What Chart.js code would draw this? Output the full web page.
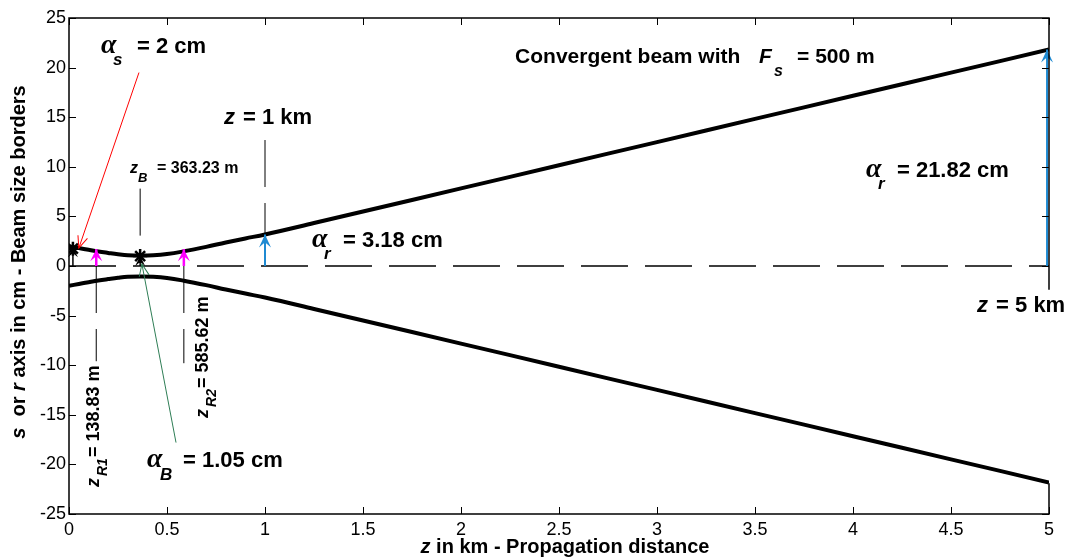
<!DOCTYPE html>
<html>
<head>
<meta charset="utf-8">
<script src="https://cdn.jsdelivr.net/npm/chart.js@4.4.1/dist/chart.umd.min.js"></script>
<style>
  html, body { margin: 0; padding: 0; background: #fff; }
  #beam { display: block; }
</style>
</head>
<body>
<canvas id="beam" width="1076" height="558"></canvas>
<script>
// ビーム境界 (cm) : 上側と下側
const zKm = [0, 0.05, 0.1, 0.15, 0.2, 0.25, 0.3, 0.363, 0.43, 0.5, 0.586, 0.7, 0.8, 0.9, 1.0, 1.25, 1.5, 2, 2.5, 3, 3.5, 4, 4.5, 5];
const upperCm = [2.0, 1.81, 1.63, 1.46, 1.32, 1.19, 1.09, 1.05, 1.08, 1.2, 1.48, 1.93, 2.37, 2.78, 3.18, 4.33, 5.5, 7.82, 10.16, 12.49, 14.83, 17.16, 19.49, 21.82];
const lowerCm = [-2.0, -1.81, -1.63, -1.46, -1.32, -1.19, -1.09, -1.05, -1.08, -1.2, -1.48, -1.93, -2.37, -2.78, -3.18, -4.33, -5.5, -7.82, -10.16, -12.49, -14.83, -17.16, -19.49, -21.82];

// 目盛り
const xTicks = [0, 0.5, 1, 1.5, 2, 2.5, 3, 3.5, 4, 4.5, 5];
const xTickLabels = ["0", "0.5", "1", "1.5", "2", "2.5", "3", "3.5", "4", "4.5", "5"];
const yTicks = [-25, -20, -15, -10, -5, 0, 5, 10, 15, 20, 25];
const yTickLabels = ["-25", "-20", "-15", "-10", "-5", "0", "5", "10", "15", "20", "25"];

// 補助線 (縦の破線, 上から下へ)
const guideZ = [0.139, 0.586, 0.363, 1];
const guideFrom = [0, 0, 7.8, 12.7];
const guideTo = [-9.6, -9.8, 1.05, 3.18];

// 矢印
const blueArrowZ = [1, 4.99];
const blueArrowTop = [3.18, 21.82];
const magentaArrowZ = [0.139, 0.586];
const magentaArrowTop = [1.7, 1.7];
const blackArrowZ = [0.02, 0.363];
const blackArrowTop = [1.9, 1.0];
const starZ = [0.02, 0.363];
const starCm = [1.75, 1.0];
const redArrowZ = [0.357, 0.05];
const redArrowCm = [19.5, 1.8];
const greenArrowZ = [0.546, 0.372];
const greenArrowCm = [-17.8, 0.2];

// 右枠の切れ目 (z = 5 km の文字の部分)
const rightFrameGap = [-2.4, -21.9];

const SANS = '"Liberation Sans", Arial, sans-serif';
const SERIF = '"Liberation Serif", "Times New Roman", serif';

function pts(xs, ys) {
  return xs.map((x, i) => ({ x: x, y: ys[i] }));
}

function segment(x0, y0, x1, y1, color, width, dash, head) {
  return {
    data: [{ x: x0, y: y0 }, { x: x1, y: y1 }],
    showLine: true,
    pointRadius: 0,
    borderColor: color,
    borderWidth: width,
    borderDash: dash || [],
    head: head || null,
    order: 1,
  };
}

const datasets = [];

// ビーム
datasets.push({
  data: pts(zKm, upperCm), showLine: true, pointRadius: 0,
  borderColor: "#000", borderWidth: 4, tension: 0.4, order: 3,
});
datasets.push({
  data: pts(zKm, lowerCm), showLine: true, pointRadius: 0,
  borderColor: "#000", borderWidth: 4, tension: 0.4, order: 3,
});

// 0 の破線
datasets.push(Object.assign(segment(0, 0, 5, 0, "#000", 1.5, [47, 17]), { order: 4 }));

guideZ.forEach((z, i) => {
  datasets.push(Object.assign(segment(z, guideFrom[i], z, guideTo[i], "#000", 1, [47, 16]), { order: 4 }));
});

blueArrowZ.forEach((z, i) => {
  datasets.push(segment(z, 0, z, blueArrowTop[i], "#1f8ad2", 2, null, { len: 13, half: 6, fill: true }));
});
magentaArrowZ.forEach((z, i) => {
  datasets.push(segment(z, 0, z, magentaArrowTop[i], "#ff00ff", 2.5, null, { len: 12, half: 6, fill: true }));
});
blackArrowZ.forEach((z, i) => {
  datasets.push(segment(z, 0, z, blackArrowTop[i], "#000", 1.5, null, { len: 10, half: 5, fill: true }));
});
datasets.push(segment(redArrowZ[0], redArrowCm[0], redArrowZ[1], redArrowCm[1], "#ff0000", 1, null, { len: 12, half: 5, fill: false }));
datasets.push(segment(greenArrowZ[0], greenArrowCm[0], greenArrowZ[1], greenArrowCm[1], "#2e7d55", 1, null, { len: 12, half: 5, fill: false }));

datasets.push({
  data: pts(starZ, starCm), showLine: false, pointStyle: "star", pointRadius: 7,
  borderColor: "#000", backgroundColor: "#000", pointBorderWidth: 2.5, order: 0,
});

// 注記 (データ座標で配置)
const ALPHA = "italic bold 28px " + SERIF;
const notes = [
  { z: 0.163, v: 21.47, parts: [
    { t: "α", f: ALPHA, dx: 0, dy: 0 },
    { t: "s", f: "italic bold 17px " + SANS, dx: 12, dy: 12 },
    { t: "= 2 cm", f: "bold 22px " + SANS, dx: 36, dy: 0 }] },
  { z: 2.276, v: 20.46, parts: [
    { t: "Convergent beam with", f: "bold 21px " + SANS, dx: 0, dy: 0 },
    { t: "F", f: "italic bold 21px " + SANS, dx: 244, dy: 0 },
    { t: "s", f: "italic bold 16px " + SANS, dx: 259, dy: 13 },
    { t: "= 500 m", f: "bold 21px " + SANS, dx: 282, dy: 0 }] },
  { z: 0.791, v: 14.31, parts: [
    { t: "z", f: "italic bold 22px " + SANS, dx: 0, dy: 0 },
    { t: "= 1 km", f: "bold 22px " + SANS, dx: 19, dy: 0 }] },
  { z: 0.311, v: 9.375, parts: [
    { t: "z", f: "italic bold 16px " + SANS, dx: 0, dy: 0 },
    { t: "B", f: "italic bold 13px " + SANS, dx: 8, dy: 9 },
    { t: "= 363.23 m", f: "bold 16px " + SANS, dx: 27, dy: 0 }] },
  { z: 1.24, v: 1.915, parts: [
    { t: "α", f: ALPHA, dx: 0, dy: 0 },
    { t: "r", f: "italic bold 17px " + SANS, dx: 12, dy: 12 },
    { t: "= 3.18 cm", f: "bold 22px " + SANS, dx: 31, dy: 0 }] },
  { z: 4.066, v: 8.97, parts: [
    { t: "α", f: ALPHA, dx: 0, dy: 0 },
    { t: "r", f: "italic bold 17px " + SANS, dx: 12, dy: 12 },
    { t: "= 21.82 cm", f: "bold 22px " + SANS, dx: 31, dy: 0 }] },
  { z: 4.633, v: -4.64, parts: [
    { t: "z", f: "italic bold 22px " + SANS, dx: 0, dy: 0 },
    { t: "= 5 km", f: "bold 22px " + SANS, dx: 19, dy: 0 }] },
  { z: 0.398, v: -20.26, parts: [
    { t: "α", f: ALPHA, dx: 0, dy: 0 },
    { t: "B", f: "italic bold 17px " + SANS, dx: 13, dy: 13 },
    { t: "= 1.05 cm", f: "bold 22px " + SANS, dx: 36, dy: 0 }] },
  { z: 0.153, v: -22.28, rot: true, parts: [
    { t: "z", f: "italic bold 18px " + SANS, dx: 0, dy: 0 },
    { t: "R1", f: "italic bold 14px " + SANS, dx: 11, dy: 8 },
    { t: "= 138.83 m", f: "bold 18px " + SANS, dx: 30, dy: 0 }] },
  { z: 0.709, v: -15.32, rot: true, parts: [
    { t: "z", f: "italic bold 18px " + SANS, dx: 0, dy: 0 },
    { t: "R2", f: "italic bold 14px " + SANS, dx: 11, dy: 8 },
    { t: "= 585.62 m", f: "bold 18px " + SANS, dx: 30, dy: 0 }] },
];

function drawParts(ctx, parts) {
  parts.forEach((p) => {
    ctx.font = p.f;
    ctx.fillText(p.t, p.dx, p.dy);
  });
}

function drawRun(ctx, runs, cx, cy, rotate) {
  // 中央揃えの混在フォント文字列
  let w = 0;
  runs.forEach((r) => { ctx.font = r.f; w += ctx.measureText(r.t).width; });
  ctx.save();
  ctx.translate(cx, cy);
  if (rotate) ctx.rotate(-Math.PI / 2);
  let x = -w / 2;
  runs.forEach((r) => {
    ctx.font = r.f;
    ctx.fillText(r.t, x, 0);
    x += ctx.measureText(r.t).width;
  });
  ctx.restore();
}

function inGap(v) {
  return v < rightFrameGap[0] && v > rightFrameGap[1];
}

const framePlugin = {
  id: "frame",
  afterDatasetsDraw(chart) {
    const ctx = chart.ctx;
    chart.data.datasets.forEach((ds, i) => {
      if (!ds.head) return;
      const pts = chart.getDatasetMeta(i).data;
      const a = pts[pts.length - 2], b = pts[pts.length - 1];
      const ang = Math.atan2(b.y - a.y, b.x - a.x);
      const h = ds.head;
      ctx.save();
      ctx.translate(b.x, b.y);
      ctx.rotate(ang);
      ctx.strokeStyle = ds.borderColor;
      ctx.fillStyle = ds.borderColor;
      ctx.lineWidth = ds.borderWidth;
      ctx.beginPath();
      if (h.fill) {
        ctx.moveTo(0, 0);
        ctx.lineTo(-h.len, -h.half);
        ctx.lineTo(-h.len * 0.6, 0);
        ctx.lineTo(-h.len, h.half);
        ctx.closePath();
        ctx.fill();
      } else {
        ctx.moveTo(-h.len, -h.half);
        ctx.lineTo(0, 0);
        ctx.lineTo(-h.len, h.half);
        ctx.stroke();
      }
      ctx.restore();
    });
  },
  afterDraw(chart) {
    const ctx = chart.ctx;
    const area = chart.chartArea;
    const xs = chart.scales.x, ys = chart.scales.y;
    ctx.save();
    ctx.strokeStyle = "#000";
    ctx.fillStyle = "#000";
    ctx.lineWidth = 1.5;
    ctx.beginPath();
    ctx.moveTo(area.right, ys.getPixelForValue(rightFrameGap[0]));
    ctx.lineTo(area.right, area.top);
    ctx.lineTo(area.left, area.top);
    ctx.lineTo(area.left, area.bottom);
    ctx.lineTo(area.right, area.bottom);
    ctx.lineTo(area.right, ys.getPixelForValue(rightFrameGap[1]));
    ctx.stroke();

    // 内向きの目盛り
    ctx.lineWidth = 1;
    ctx.beginPath();
    xTicks.forEach((t) => {
      const px = Math.round(xs.getPixelForValue(t)) + 0.5;
      ctx.moveTo(px, area.bottom); ctx.lineTo(px, area.bottom - 7);
      ctx.moveTo(px, area.top); ctx.lineTo(px, area.top + 7);
    });
    yTicks.forEach((t) => {
      const py = Math.round(ys.getPixelForValue(t)) + 0.5;
      ctx.moveTo(area.left, py); ctx.lineTo(area.left + 7, py);
      if (!inGap(t)) {
        ctx.moveTo(area.right, py); ctx.lineTo(area.right - 7, py);
      }
    });
    ctx.stroke();

    // 目盛りラベル
    ctx.font = "18px " + SANS;
    ctx.textAlign = "center";
    ctx.textBaseline = "alphabetic";
    xTicks.forEach((t, i) => {
      ctx.fillText(xTickLabels[i], xs.getPixelForValue(t), area.bottom + 21);
    });
    ctx.textAlign = "right";
    ctx.textBaseline = "middle";
    yTicks.forEach((t, i) => {
      ctx.fillText(yTickLabels[i], area.left - 3, ys.getPixelForValue(t));
    });

    // 軸タイトル
    ctx.textAlign = "left";
    ctx.textBaseline = "alphabetic";
    drawRun(ctx, [
      { t: "z", f: "italic bold 20px " + SANS },
      { t: " in km - Propagation distance", f: "bold 20px " + SANS }], 565, 553, false);
    drawRun(ctx, [
      { t: "s", f: "italic bold 20px " + SANS },
      { t: "  or ", f: "bold 20px " + SANS },
      { t: "r", f: "italic bold 20px " + SANS },
      { t: " axis in cm - Beam size borders", f: "bold 20px " + SANS }], 25, 262, true);

    // 注記
    notes.forEach((n) => {
      ctx.save();
      ctx.translate(xs.getPixelForValue(n.z), ys.getPixelForValue(n.v));
      if (n.rot) ctx.rotate(-Math.PI / 2);
      drawParts(ctx, n.parts);
      ctx.restore();
    });
    ctx.restore();
  },
};

new Chart(document.getElementById("beam").getContext("2d"), {
  type: "scatter",
  data: { datasets: datasets },
  options: {
    responsive: false,
    animation: false,
    devicePixelRatio: 1,
    layout: { padding: { left: 69, right: 27, top: 18, bottom: 44 } },
    plugins: { legend: { display: false }, tooltip: { enabled: false } },
    scales: {
      x: { type: "linear", min: 0, max: 5, display: false },
      y: { type: "linear", min: -25, max: 25, display: false },
    },
  },
  plugins: [framePlugin],
});
</script>
</body>
</html>
